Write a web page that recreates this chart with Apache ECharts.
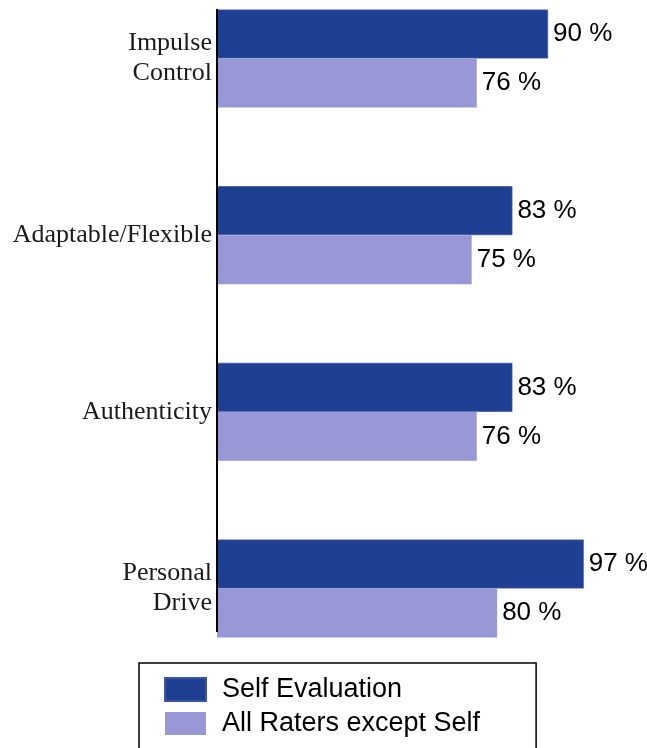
<!DOCTYPE html>
<html>
<head>
<meta charset="utf-8">
<script src="https://cdn.jsdelivr.net/npm/echarts@6/dist/echarts.min.js"></script>
<style>
  html, body { margin: 0; padding: 0; background: #ffffff; }
  #chart { width: 647px; height: 748px; }
</style>
</head>
<body>
<div id="chart"></div>
<script>
// Competency categories, top to bottom
const categories = ['Impulse\nControl', 'Adaptable/Flexible', 'Authenticity', 'Personal\nDrive'];
// Percent scores per rater group
const selfEvaluation = [90, 83, 83, 97];
const allRatersExceptSelf = [76, 75, 76, 80];
const seriesNames = ['Self Evaluation', 'All Raters except Self'];

const chart = echarts.init(document.getElementById('chart'), null, { renderer: 'canvas' });

const valueLabel = {
  show: true,
  position: 'right',
  distance: 5,
  formatter: '{c} %',
  color: '#000',
  fontFamily: '"Liberation Sans", Arial, sans-serif',
  fontSize: 26
};

chart.setOption({
  backgroundColor: '#ffffff',
  animation: false,
  // categories sit on the ticks, so the grid spans first to last category centre
  grid: {
    left: 217,
    width: 382,
    top: 58.5,
    height: 530,
    containLabel: false
  },
  xAxis: {
    type: 'value',
    min: 25,
    max: 100,
    show: false
  },
  yAxis: {
    type: 'category',
    inverse: true,
    boundaryGap: false,
    data: categories,
    axisLine: { show: false },
    axisTick: { show: false },
    splitLine: { show: false },
    axisLabel: {
      margin: 5,
      align: 'right',
      color: '#1a1a1a',
      fontFamily: '"Liberation Serif", "Times New Roman", serif',
      fontSize: 26,
      lineHeight: 30
    }
  },
  legend: {
    orient: 'vertical',
    left: 139,
    top: 663,
    height: 140,
    data: seriesNames,
    icon: 'rect',
    itemWidth: 41,
    itemHeight: 23,
    itemGap: 7,
    padding: [13, 56, 30, 25],
    borderColor: '#000',
    borderWidth: 1.5,
    borderRadius: 0,
    textStyle: {
      color: '#000',
      fontFamily: '"Liberation Sans", Arial, sans-serif',
      fontSize: 27,
      padding: [0, 0, 0, 11]
    }
  },
  graphic: [{
    type: 'line',
    shape: { x1: 217, y1: 9, x2: 217, y2: 632 },
    style: { stroke: '#000', lineWidth: 2 },
    z: 10
  }],
  series: [
    {
      name: seriesNames[0],
      type: 'bar',
      data: selfEvaluation,
      barWidth: 49,
      barGap: '0%',
      itemStyle: { color: '#1f3f92', borderColor: '#3a57a4', borderWidth: 0.8 },
      label: valueLabel
    },
    {
      name: seriesNames[1],
      type: 'bar',
      data: allRatersExceptSelf,
      barWidth: 49,
      barGap: '0%',
      itemStyle: { color: '#9898d7' },
      label: valueLabel
    }
  ]
});
</script>
</body>
</html>
